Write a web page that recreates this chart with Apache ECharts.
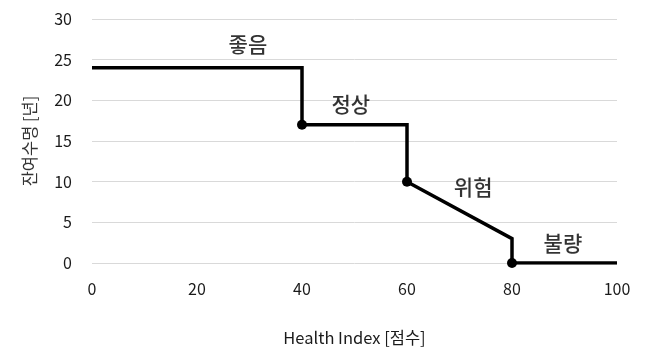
<!DOCTYPE html>
<html><head><meta charset="utf-8">
<script src="https://cdn.jsdelivr.net/npm/echarts@6/dist/echarts.min.js"></script>
<style>html,body{margin:0;padding:0;background:#fff}#c{width:648px;height:354px}</style>
</head><body><div id="c"></div>
<script>
const lineX = [0, 40, 40, 60, 60, 80, 80, 100];
const lineY = [24, 24, 17, 17, 10, 3, 0, 0];
const dotX = [40, 60, 80];
const dotY = [17, 10, 0];
const labelText = ['좋음', '정상', '위험', '불량'];
const labelX = [29.7, 49.3, 72.6, 89.7];
const labelY = [26.9, 19.5, 9.3, 2.5];
const xTicks = [0, 20, 40, 60, 80, 100];
const yTicks = [0, 5, 10, 15, 20, 25, 30];
const xTitle = 'Health Index [점수]';
const yTitle = '잔여수명 [년]';

const font = '"Noto Sans CJK KR", "Noto Sans", sans-serif';
const chart = echarts.init(document.getElementById('c'));
chart.setOption({
  animation: false,
  textStyle: { fontFamily: font },
  grid: { left: 92, right: 31, top: 19, bottom: 91 },
  xAxis: {
    type: 'value', min: xTicks[0], max: xTicks[xTicks.length - 1], interval: 20,
    axisLine: { show: false }, axisTick: { show: false }, splitLine: { show: false },
    axisLabel: { fontSize: 16, color: '#1a1a1a', margin: 18, fontFamily: font },
    name: xTitle, nameLocation: 'middle', nameGap: 66,
    nameTextStyle: { fontSize: 16.5, color: '#1a1a1a', fontFamily: font }
  },
  yAxis: {
    type: 'value', min: yTicks[0], max: yTicks[yTicks.length - 1], interval: 5,
    axisLine: { show: false }, axisTick: { show: false },
    splitLine: { lineStyle: { color: '#d9d9d9', width: 1 } },
    axisLabel: { fontSize: 16, color: '#1a1a1a', margin: 20, fontFamily: font },
    name: yTitle, nameLocation: 'middle', nameGap: 54, nameRotate: 90,
    nameTextStyle: { fontSize: 16.5, color: '#333', fontFamily: font }
  },
  series: [
    {
      type: 'line', data: lineX.map((x, i) => [x, lineY[i]]),
      showSymbol: false, symbol: 'none',
      lineStyle: { color: '#000', width: 3.5, join: 'miter' }, z: 2
    },
    {
      type: 'scatter', data: dotX.map((x, i) => [x, dotY[i]]),
      symbol: 'circle', symbolSize: 10, itemStyle: { color: '#000', opacity: 1 }, z: 3
    },
    {
      type: 'scatter', data: labelX.map((x, i) => ({ value: [x, labelY[i]], name: labelText[i] })),
      symbolSize: 0, silent: true,
      label: { show: true, position: 'inside', formatter: p => p.name, fontSize: 21, fontWeight: 500, color: '#000', fontFamily: font }
    }
  ]
});
</script></body></html>
